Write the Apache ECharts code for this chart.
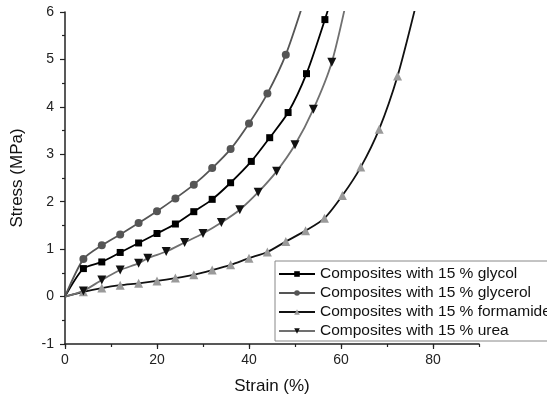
<!DOCTYPE html>
<html>
<head>
<meta charset="utf-8">
<script src="https://cdn.jsdelivr.net/npm/echarts@6/dist/echarts.min.js"></script>
<style>html,body{margin:0;padding:0;background:#fff;}#c{width:547px;height:400px;}</style>
</head>
<body>
<div id="c"></div>
<script>
var seriesNames = ['Composites with 15 % glycol', 'Composites with 15 % glycerol', 'Composites with 15 % formamide', 'Composites with 15 % urea'];
var xTickLabels = [0, 20, 40, 60, 80];

var glycolX = [0, 4, 8, 12, 16, 20, 24, 28, 32, 36, 40.5, 44.5, 48.5, 52.5, 56.5, 60.5];
var glycolY = [0, 0.59, 0.73, 0.93, 1.13, 1.33, 1.53, 1.79, 2.05, 2.40, 2.85, 3.35, 3.88, 4.70, 5.84, 7.1];

var glycerolX = [0, 4, 8, 12, 16, 20, 24, 28, 32, 36, 40, 44, 48, 52];
var glycerolY = [0, 0.79, 1.08, 1.31, 1.55, 1.80, 2.07, 2.36, 2.71, 3.11, 3.65, 4.28, 5.10, 6.25];

var formamideX = [0, 4, 8, 12, 16, 20, 24, 28, 32, 36, 40, 44, 48, 52.3, 56.4, 60.3, 64.3, 68.3, 72.3, 76.3];
var formamideY = [0, 0.10, 0.18, 0.24, 0.28, 0.33, 0.39, 0.46, 0.56, 0.67, 0.81, 0.94, 1.16, 1.39, 1.65, 2.13, 2.73, 3.53, 4.65, 6.15];

var ureaX = [0, 4, 8, 12, 16, 18, 22, 26, 30, 34, 38, 42, 46, 50, 54, 58, 62];
var ureaY = [0, 0.12, 0.35, 0.56, 0.70, 0.81, 0.95, 1.14, 1.33, 1.56, 1.83, 2.20, 2.64, 3.20, 3.95, 4.94, 6.6];

function pts(xs, ys) {
  return xs.map(function (x, i) {
    var d = { value: [x, ys[i]] };
    if (i === 0) d.symbol = 'none';
    return d;
  });
}

var FONT = 'Liberation Sans, Arial, sans-serif';

function mk(name, xs, ys, lineColor, markColor, symbol, size) {
  return {
    name: name, type: 'line', data: pts(xs, ys),
    smooth: 0.25, symbol: symbol, symbolSize: size,
    showAllSymbol: true, clip: true,
    lineStyle: { color: lineColor, width: 1.8 },
    itemStyle: { color: markColor, borderWidth: 0 },
    emphasis: { disabled: true },
    z: 3
  };
}

var chart = echarts.init(document.getElementById('c'), null, { renderer: 'canvas' });
chart.setOption({
  animation: false,
  backgroundColor: '#fff',
  grid: { left: 65, right: 68, top: 12, bottom: 53, containLabel: false },
  xAxis: [{
    type: 'value', min: 0, max: 90, interval: 10,
    name: 'Strain (%)', nameLocation: 'middle', nameGap: 34,
    nameTextStyle: { fontFamily: FONT, fontSize: 17, color: '#111' },
    axisLine: { show: true, onZero: false, lineStyle: { color: '#222', width: 1.5 } },
    axisTick: { show: true, length: 3, lineStyle: { color: '#222', width: 1.2 } },
    axisLabel: { customValues: xTickLabels, margin: 9, fontFamily: FONT, fontSize: 14, color: '#222' },
    splitLine: { show: false }
  }, {
    type: 'value', min: 0, max: 90, position: 'bottom', interval: 20,
    axisLine: { show: false, onZero: false },
    axisTick: { show: true, customValues: xTickLabels, length: 5, lineStyle: { color: '#222', width: 1.2 } },
    axisLabel: { show: false },
    splitLine: { show: false }
  }],
  yAxis: {
    type: 'value', min: -1, max: 6, interval: 1,
    name: 'Stress (MPa)', nameLocation: 'middle', nameGap: 39,
    nameTextStyle: { fontFamily: FONT, fontSize: 17, color: '#111' },
    axisLine: { show: true, onZero: false, lineStyle: { color: '#222', width: 1.5 } },
    axisTick: { show: true, length: 5, lineStyle: { color: '#222', width: 1.2 } },
    minorTick: { show: true, splitNumber: 2, length: 3, lineStyle: { color: '#222', width: 1.2 } },
    axisLabel: { margin: 11, fontFamily: FONT, fontSize: 14, color: '#222' },
    splitLine: { show: false }
  },
  legend: {
    orient: 'vertical', left: 275, top: 261,
    padding: [5, 5, 2, 3], itemGap: 3, itemWidth: 36, itemHeight: 7,
    backgroundColor: '#fff', borderColor: '#888', borderWidth: 1,
    textStyle: { fontFamily: FONT, fontSize: 15.5, color: '#111' },
    data: seriesNames,
    selectedMode: false
  },
  series: [
    mk(seriesNames[0], glycolX, glycolY, '#000', '#000', 'rect', 7),
    mk(seriesNames[1], glycerolX, glycerolY, '#555', '#555', 'circle', 8),
    mk(seriesNames[2], formamideX, formamideY, '#111', '#9a9a9a', 'triangle', 9),
    mk(seriesNames[3], ureaX, ureaY, '#707070', '#111', 'path://M0,0 L10,0 L5,9 Z', 9)
  ]
});
</script>
</body>
</html>
